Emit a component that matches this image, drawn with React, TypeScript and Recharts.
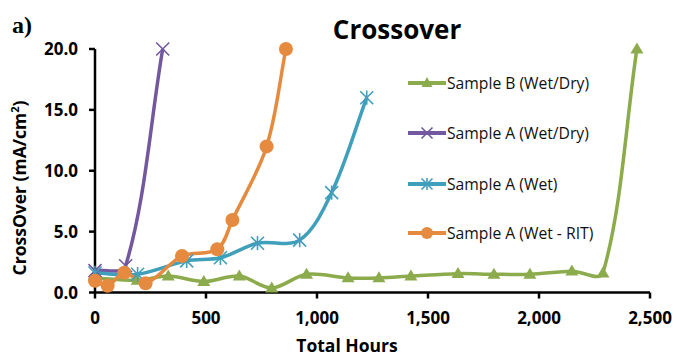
import React from 'react';
import { LineChart, Line, XAxis, YAxis } from 'recharts';

const sampleBHours = [0, 190, 330, 490, 650, 796, 953, 1140, 1279, 1423, 1635, 1797, 1959, 2148, 2288, 2441];
const sampleBValues = [1.2, 1.0, 1.35, 0.9, 1.35, 0.37, 1.5, 1.2, 1.2, 1.35, 1.55, 1.5, 1.5, 1.75, 1.6, 20];

const sampleAWetDryHours = [0, 138, 305];
const sampleAWetDryValues = [1.8, 2.2, 20];

const sampleAWetHours = [0, 192, 413, 565, 732, 922, 1066, 1224];
const sampleAWetValues = [1.6, 1.5, 2.6, 2.85, 4.05, 4.3, 8.2, 16];

const sampleARitHours = [0, 57, 132, 228, 392, 551, 619, 773, 860];
const sampleARitValues = [0.97, 0.55, 1.63, 0.76, 3.0, 3.55, 5.96, 12, 20];

const xTicks = [0, 500, 1000, 1500, 2000, 2500];
const yTicks = [0, 5, 10, 15, 20];

const seriesNames = ['Sample B (Wet/Dry)', 'Sample A (Wet/Dry)', 'Sample A (Wet)', 'Sample A (Wet - RIT)'];
const COLORS = ['#8CAB4C', '#7358A0', '#409FBB', '#E58A3E'];

const toRows = (h: number[], v: number[]) => h.map((x, i) => ({ x, y: v[i] }));

const dataB = toRows(sampleBHours, sampleBValues);
const dataAWD = toRows(sampleAWetDryHours, sampleAWetDryValues);
const dataAW = toRows(sampleAWetHours, sampleAWetValues);
const dataAR = toRows(sampleARitHours, sampleARitValues);

// Excel-like smoothed curve (length-weighted Catmull-Rom bezier)
function excelCurve(context: any) {
  let pts: [number, number][] = [];
  return {
    areaStart() {},
    areaEnd() {},
    lineStart() {
      pts = [];
    },
    point(x: number, y: number) {
      pts.push([+x, +y]);
    },
    lineEnd() {
      const n = pts.length;
      if (n === 0) return;
      context.moveTo(pts[0][0], pts[0][1]);
      if (n === 1) return;
      const dist = (a: number[], b: number[]) => Math.hypot(b[0] - a[0], b[1] - a[1]);
      const k = 1 / 3;
      for (let i = 0; i < n - 1; i++) {
        const p0 = pts[Math.max(0, i - 1)];
        const p1 = pts[i];
        const p2 = pts[i + 1];
        const p3 = pts[Math.min(n - 1, i + 2)];
        const d01 = dist(p0, p1);
        const d12 = dist(p1, p2);
        const d23 = dist(p2, p3);
        const f1 = d01 + d12 > 0 ? d12 / (d01 + d12) : 0;
        const f2 = d12 + d23 > 0 ? d12 / (d12 + d23) : 0;
        const c1x = p1[0] + (p2[0] - p0[0]) * f1 * k;
        const c1y = p1[1] + (p2[1] - p0[1]) * f1 * k;
        const c2x = p2[0] - (p3[0] - p1[0]) * f2 * k;
        const c2y = p2[1] - (p3[1] - p1[1]) * f2 * k;
        context.bezierCurveTo(c1x, c1y, c2x, c2y, p2[0], p2[1]);
      }
    },
  };
}

const Triangle = ({ cx, cy, color, w = 13, h = 11 }: any) => (
  <path d={`M${cx},${cy - h * 0.6} L${cx + w / 2},${cy + h * 0.4} L${cx - w / 2},${cy + h * 0.4} Z`} fill={color} />
);
const Circle = ({ cx, cy, color, r = 7 }: any) => <circle cx={cx} cy={cy} r={r} fill={color} />;
const Cross = ({ cx, cy, color, s = 6.5 }: any) => (
  <path d={`M${cx - s},${cy - s} L${cx + s},${cy + s} M${cx + s},${cy - s} L${cx - s},${cy + s}`} stroke={color} strokeWidth={1.6} fill="none" />
);
const Star = ({ cx, cy, color, s = 6.5 }: any) => (
  <path
    d={`M${cx - s},${cy - s} L${cx + s},${cy + s} M${cx + s},${cy - s} L${cx - s},${cy + s} M${cx},${cy - s * 1.1} L${cx},${cy + s * 1.1}`}
    stroke={color}
    strokeWidth={1.6}
    fill="none"
  />
);

const markers = [Triangle, Cross, Star, Circle];

const mkDot = (idx: number) => (props: any) => {
  const M = markers[idx];
  const { cx, cy, index } = props;
  return (
    <g key={`d-${idx}-${index}`}>
      <M cx={cx} cy={cy} color={COLORS[idx]} />
    </g>
  );
};

const LegendBox = () => (
  <div style={{ position: 'absolute', left: 408, top: 70, width: 240, height: 180 }}>
    {seriesNames.map((name, i) => {
      const M = markers[i];
      const top = [0, 50, 101, 149.5][i];
      return (
        <div key={name} style={{ position: 'absolute', left: 0, top, height: 26, display: 'flex', alignItems: 'center' }}>
          <svg width={39} height={20} style={{ display: 'block' }}>
            <line x1={0} y1={10} x2={38} y2={10} stroke={COLORS[i]} strokeWidth={4} />
            <M cx={19} cy={10} color={COLORS[i]} w={11} h={10} r={6} s={5.5} />
          </svg>
          <span style={{ fontFamily: '"Open Sans", sans-serif', fontSize: 15.7, color: '#111', whiteSpace: 'nowrap', lineHeight: '20px' }}>{name}</span>
        </div>
      );
    })}
  </div>
);

const tickStyle = { fontFamily: '"Open Sans", sans-serif', fontSize: 17, fontWeight: 700, fill: '#000' };

export default function App() {
  return (
    <div style={{ position: 'absolute', left: 0, top: 0, width: 677, height: 356, background: '#fff', overflow: 'hidden' }}>
      <LineChart width={677} height={356} margin={{ top: 49, right: 27, left: 0, bottom: 0 }}>
        <XAxis
          type="number"
          dataKey="x"
          domain={[0, 2500]}
          ticks={xTicks}
          height={63.5}
          tick={tickStyle}
          tickFormatter={(v: number) => v.toLocaleString('en-US')}
          axisLine={{ stroke: '#000', strokeWidth: 2.5 }}
          tickLine={{ stroke: '#000', strokeWidth: 2.5 }}
          tickSize={6}
          tickMargin={13}
        />
        <YAxis
          type="number"
          dataKey="y"
          domain={[0, 20]}
          ticks={yTicks}
          width={95}
          tick={tickStyle}
          tickFormatter={(v: number) => v.toFixed(1)}
          axisLine={{ stroke: '#000', strokeWidth: 2.5 }}
          tickLine={{ stroke: '#000', strokeWidth: 2.5 }}
          tickSize={6}
          tickMargin={11}
        />
        <Line name={seriesNames[0]} data={dataB} dataKey="y" type={excelCurve as any} stroke={COLORS[0]} strokeWidth={3.5} dot={mkDot(0)} isAnimationActive={false} />
        <Line name={seriesNames[1]} data={dataAWD} dataKey="y" type={excelCurve as any} stroke={COLORS[1]} strokeWidth={3.5} dot={mkDot(1)} isAnimationActive={false} />
        <Line name={seriesNames[2]} data={dataAW} dataKey="y" type={excelCurve as any} stroke={COLORS[2]} strokeWidth={3.5} dot={mkDot(2)} isAnimationActive={false} />
        <Line name={seriesNames[3]} data={dataAR} dataKey="y" type={excelCurve as any} stroke={COLORS[3]} strokeWidth={3.5} dot={mkDot(3)} isAnimationActive={false} />
      </LineChart>
      <LegendBox />
      <div style={{ position: 'absolute', left: 12, top: 10, fontFamily: '"Liberation Serif", serif', fontWeight: 700, fontSize: 24, lineHeight: '30px', color: '#000' }}>a)</div>
      <div style={{ position: 'absolute', left: 297, width: 200, top: 11, textAlign: 'center', fontFamily: '"Open Sans", sans-serif', fontWeight: 700, fontSize: 26, lineHeight: '36px', color: '#000' }}>Crossover</div>
      <div style={{ position: 'absolute', left: 247, width: 200, top: 333, textAlign: 'center', fontFamily: '"Open Sans", sans-serif', fontWeight: 700, fontSize: 17.5, lineHeight: '24px', color: '#000' }}>Total Hours</div>
      <div
        style={{
          position: 'absolute',
          left: 19 - 120,
          top: 187.5 - 12,
          width: 240,
          height: 24,
          textAlign: 'center',
          transform: 'rotate(-90deg)',
          fontFamily: '"Open Sans", sans-serif',
          fontWeight: 700,
          fontSize: 17.5,
          lineHeight: '24px',
          color: '#000',
          whiteSpace: 'nowrap',
        }}
      >
        CrossOver (mA/cm<sup style={{ fontSize: 11, lineHeight: 0 }}>2</sup>)
      </div>
    </div>
  );
}
